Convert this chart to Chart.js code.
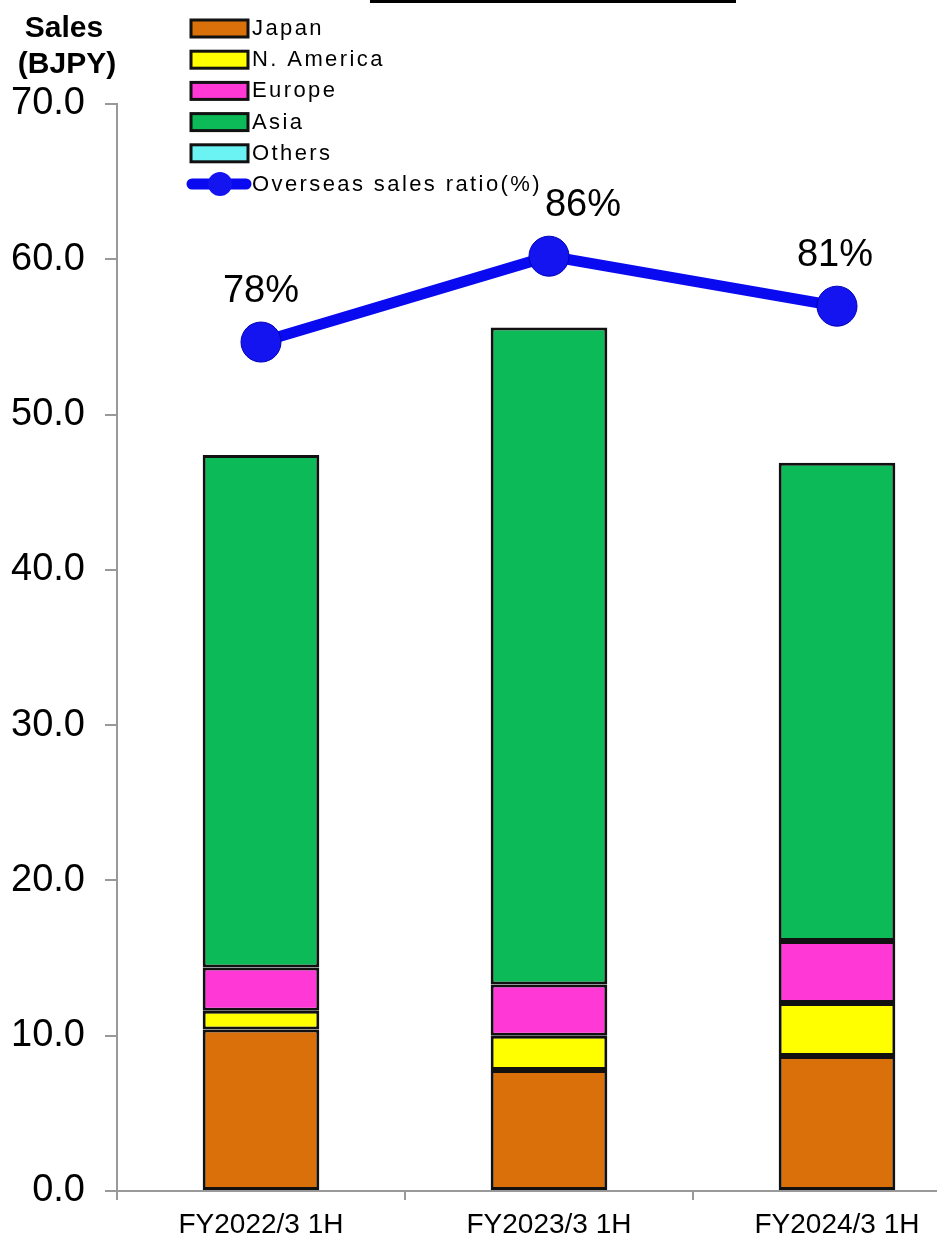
<!DOCTYPE html>
<html>
<head>
<meta charset="utf-8">
<title>Sales by region</title>
<script src="https://cdn.jsdelivr.net/npm/chart.js@4.4.1/dist/chart.umd.min.js"></script>
<style>
  html, body { margin: 0; padding: 0; background: #fff; overflow: hidden; }
  #wrap { width: 937px; height: 1242px; overflow: hidden; }
</style>
</head>
<body>
<div id="wrap"><canvas id="salesChart" width="1002" height="1242"></canvas></div>
<script>
// данные
const periods = ["FY2022/3 1H", "FY2023/3 1H", "FY2024/3 1H"];
const japanSales = [10.4, 7.8, 8.7];
const naSales = [1.2, 2.2, 3.4];
const europeSales = [2.8, 3.3, 4.0];
const asiaSales = [33.0, 42.3, 30.8];
const othersSales = [0, 0, 0];
const overseasRatio = [78.1, 86.0, 81.4];
const yTicks = [0, 10, 20, 30, 40, 50, 60, 70];

const FONT = "'Liberation Sans', Arial, sans-serif";

const legendItems = [
  { label: "Japan", color: "#D9700A" },
  { label: "N. America", color: "#FFFF00" },
  { label: "Europe", color: "#FF38D6" },
  { label: "Asia", color: "#0CBA58" },
  { label: "Others", color: "#6BF2F2" },
];

// подписи, легенда, заголовок оси
const overlayPlugin = {
  id: "overlay",
  afterDraw(chart) {
    const ctx = chart.ctx;
    ctx.save();

    // обрывок заголовка сверху
    ctx.fillStyle = "#000";
    ctx.fillRect(370, 0, 366, 3);

    // заголовок оси
    ctx.font = "bold 30px " + FONT;
    ctx.textAlign = "center";
    ctx.textBaseline = "alphabetic";
    ctx.fillText("Sales", 64, 37);
    ctx.fillText("(BJPY)", 67, 73);

    // легенда
    ctx.font = "22px " + FONT;
    ctx.letterSpacing = "2.4px";
    ctx.textAlign = "left";
    ctx.textBaseline = "middle";
    legendItems.forEach((item, i) => {
      const y = 28 + i * 31.2;
      ctx.fillStyle = item.color;
      ctx.fillRect(191, y - 8, 57, 17);
      ctx.strokeStyle = "#111";
      ctx.lineWidth = 3;
      ctx.strokeRect(191, y - 8, 57, 17);
      ctx.fillStyle = "#000";
      ctx.fillText(item.label, 252, y + 1);
    });
    const ly = 184;
    ctx.strokeStyle = "#0A0AF0";
    ctx.lineWidth = 11;
    ctx.lineCap = "round";
    ctx.beginPath();
    ctx.moveTo(192, ly);
    ctx.lineTo(246, ly);
    ctx.stroke();
    ctx.beginPath();
    ctx.arc(220, ly, 12, 0, Math.PI * 2);
    ctx.fillStyle = "#1414F0";
    ctx.fill();
    ctx.fillStyle = "#000";
    ctx.fillText("Overseas sales ratio(%)", 252, ly + 1);

    // подписи процентов
    ctx.letterSpacing = "0px";
    ctx.font = "38px " + FONT;
    ctx.textAlign = "center";
    ctx.textBaseline = "alphabetic";
    const shifts = [0, 34, -2];
    const meta = chart.getDatasetMeta(5);
    meta.data.forEach((pt, i) => {
      const txt = Math.round(overseasRatio[i]) + "%";
      ctx.fillText(txt, pt.x + shifts[i], pt.y - 40);
    });

    ctx.restore();
  },
};

const barBase = {
  type: "bar",
  yAxisID: "y",
  borderColor: "#111",
  borderWidth: 3,
  borderSkipped: false,
  order: 1,
};

new Chart(document.getElementById("salesChart"), {
  type: "bar",
  data: {
    labels: periods,
    datasets: [
      { ...barBase, label: "Japan", data: japanSales, backgroundColor: legendItems[0].color },
      { ...barBase, label: "N. America", data: naSales, backgroundColor: legendItems[1].color },
      { ...barBase, label: "Europe", data: europeSales, backgroundColor: legendItems[2].color },
      { ...barBase, label: "Asia", data: asiaSales, backgroundColor: legendItems[3].color },
      { ...barBase, label: "Others", data: othersSales, backgroundColor: legendItems[4].color, borderWidth: 0 },
      {
        type: "line",
        label: "Overseas sales ratio(%)",
        data: overseasRatio,
        yAxisID: "y2",
        borderColor: "#0A0AF0",
        borderWidth: 11,
        pointRadius: 20,
        pointBackgroundColor: "#1414F0",
        pointBorderColor: "#0000B4",
        pointBorderWidth: 1,
        tension: 0,
        order: 0,
      },
    ],
  },
  options: {
    responsive: false,
    animation: false,
    devicePixelRatio: 1,
    layout: { padding: { top: 104, right: 9, left: 0, bottom: 0 } },
    datasets: {
      bar: { categoryPercentage: 1, barPercentage: 0.405 },
    },
    scales: {
      x: {
        stacked: true,
        offset: true,
        afterFit(scale) { scale.height = 51; },
        grid: {
          offset: true,
          drawOnChartArea: false,
          drawTicks: true,
          tickLength: 9,
          color: "#999",
          lineWidth: 2,
        },
        border: { color: "#999", width: 2 },
        ticks: {
          color: "#000",
          font: { family: FONT, size: 28 },
          padding: 8,
          maxRotation: 0,
        },
      },
      y: {
        stacked: true,
        min: 0,
        max: 70,
        afterFit(scale) { scale.width = 117; },
        afterBuildTicks(scale) { scale.ticks = yTicks.map((v) => ({ value: v })); },
        grid: {
          drawOnChartArea: false,
          drawTicks: true,
          tickLength: 12,
          color: "#999",
          lineWidth: 2,
        },
        border: { color: "#999", width: 2 },
        ticks: {
          color: "#000",
          font: { family: FONT, size: 38 },
          padding: 20,
          callback: (v) => Number(v).toFixed(1),
        },
      },
      y2: {
        display: false,
        min: 0,
        max: 100,
      },
    },
    plugins: {
      legend: { display: false },
      tooltip: { enabled: false },
    },
  },
  plugins: [overlayPlugin],
});
</script>
</body>
</html>
